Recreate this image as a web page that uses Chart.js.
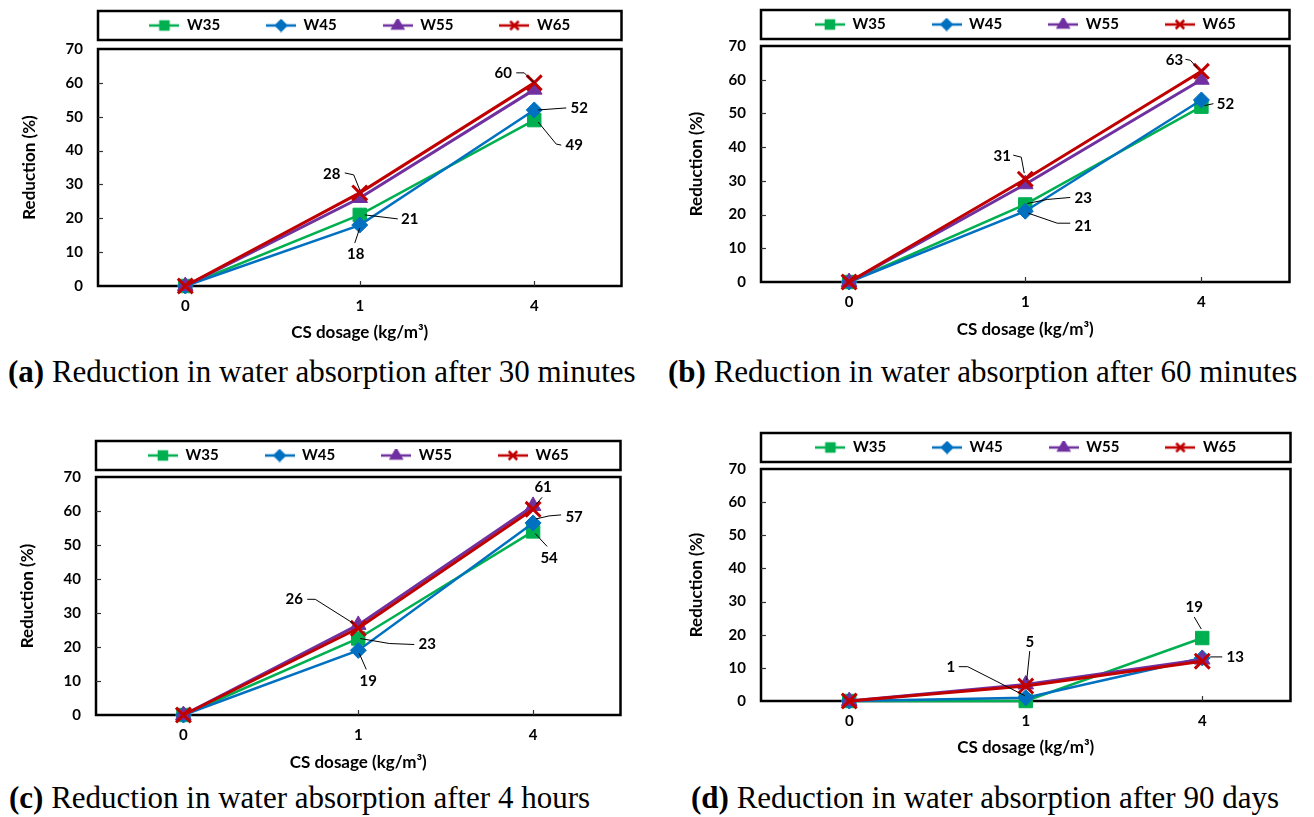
<!DOCTYPE html>
<html><head><meta charset="utf-8">
<script src="https://cdn.jsdelivr.net/npm/chart.js@4.4.0/dist/chart.umd.min.js"></script>
<style>
html,body{margin:0;padding:0;background:#fff;width:1314px;height:817px;overflow:hidden;position:relative}
canvas{position:absolute}
.cap{position:absolute;font-family:'Liberation Serif','Times New Roman',serif;font-size:31px;line-height:34px;white-space:nowrap;color:#000}
</style></head><body>
<script>
// ---------- data ----------
const categories = ['0', '1', '4'];
const seriesNames = ['W35', 'W45', 'W55', 'W65'];

const w35_30min = [0, 21, 49];
const w45_30min = [0, 18, 52];
const w55_30min = [0, 26, 58];
const w65_30min = [0, 27.5, 60];

const w35_60min = [0, 23, 52];
const w45_60min = [0, 21, 54];
const w55_60min = [0, 29, 60];
const w65_60min = [0, 30.5, 62.5];

const w35_4h = [0, 22.5, 54];
const w45_4h = [0, 19, 56.5];
const w55_4h = [0, 26.5, 61.5];
const w65_4h = [0, 25.5, 60.5];

const w35_90d = [0, 0, 19];
const w45_90d = [0, 1, 13];
const w55_90d = [0, 5, 12.5];
const w65_90d = [0, 4.5, 12];

// value labels: [series index, category index, text]
const labels_30min = [[3, 1, '28'], [0, 1, '21'], [1, 1, '18'], [3, 2, '60'], [1, 2, '52'], [0, 2, '49']];
const labels_60min = [[3, 1, '31'], [0, 1, '23'], [1, 1, '21'], [3, 2, '63'], [0, 2, '52']];
const labels_4h = [[3, 1, '26'], [0, 1, '23'], [1, 1, '19'], [3, 2, '61'], [1, 2, '57'], [0, 2, '54']];
const labels_90d = [[1, 1, '1'], [3, 1, '5'], [0, 2, '19'], [1, 2, '13']];

const captionTags = ['(a)', '(b)', '(c)', '(d)'];
const captionTexts = [
  'Reduction in water absorption after 30 minutes',
  'Reduction in water absorption after 60 minutes',
  'Reduction in water absorption after 4 hours',
  'Reduction in water absorption after 90 days'
];
const yTitle = 'Reduction (%)';
const xTitle = 'CS dosage (kg/m³)';

// ---------- layout & style ----------
const COLORS = ['#00B050', '#0070C0', '#7030A0', '#C00000'];
const MARK = [
  {style: 'rect', r: 9.5, bw: 1, lw: 2.5},
  {style: 'rectRot', r: 8, bw: 1, lw: 2.5},
  {style: 'triangle', r: 9, bw: 1, lw: 3},
  {style: 'crossRot', r: 10.5, bw: 3, lw: 3}
];
const LEG_MARK = [
  {style: 'rect', r: 5.7, bw: 1},
  {style: 'rectRot', r: 5, bw: 1},
  {style: 'triangle', r: 6, bw: 1},
  {style: 'crossRot', r: 6, bw: 2}
];
const LEG_PAD = 46, LEG_FONT = 15;

// label offsets relative to the marked point: t = text centre, p = leader line
const pos_30min = [
  {t: [-28, -19], p: [[-15, -20], [-6, -18], [0, -3]]},
  {t: [50, 4], p: [[38, 4], [5, 0]]},
  {t: [-4, 29], p: [[-5, 18], [0, 3]]},
  {t: [-31, -10], p: [[-18, -10], [-10, -10], [0, 0]]},
  {t: [45, -2], p: [[32, -2], [4, 0]]},
  {t: [40, 25], p: [[27, 25], [22, 24], [4, 2]]}
];
const pos_60min = [
  {t: [-23, -23], p: [[-12, -24], [-4, -22], [-1, -6]]},
  {t: [58, -6], p: [[45, -7], [22, -5], [2, -1]]},
  {t: [58, 15], p: [[45, 12], [32, 12], [3, 2]]},
  {t: [-27, -11], p: [[-16, -12], [-11, -11], [-4, -3]]},
  {t: [24, -3], p: [[12, -3], [3, -1]]}
];
const pos_4h = [
  {t: [-64, -29], p: [[-51, -29], [-43, -29], [-5, -5]]},
  {t: [69, 6], p: [[56, 6], [31, 5], [2, 0]]},
  {t: [10, 31], p: [[8, 19], [1, 3]]},
  {t: [10, -22], p: [[9, -12], [3, -5]]},
  {t: [41, -6], p: [[28, -8], [16, -7], [3, -4]]},
  {t: [16, 27], p: [[14, 15], [2, 2]]}
];
const pos_90d = [
  {t: [-75, -31], p: [[-67, -31], [-58, -31], [-1, -2]]},
  {t: [4, -44], p: [[4, -35], [1, -6]]},
  {t: [-8, -31], p: [[-8, -21], [-1, -9]]},
  {t: [33, -1], p: [[20, -1], [8, -1]]}
];

const PANELS = [
  {series: [w35_30min, w45_30min, w55_30min, w65_30min], labels: labels_30min, pos: pos_30min,
   left: 0, top: -28, width: 635, height: 371, yW: 98, xH: 57, spacer: 6, yTitlePad: 19, cap: [8, 355]},
  {series: [w35_60min, w45_60min, w55_60min, w65_60min], labels: labels_60min, pos: pos_60min,
   left: 660, top: -29, width: 643, height: 369, yW: 101, xH: 58, spacer: 4, yTitlePad: 26, cap: [668, 355]},
  {series: [w35_4h, w45_4h, w55_4h, w65_4h], labels: labels_4h, pos: pos_4h,
   left: 0, top: 402, width: 634, height: 371, yW: 96, xH: 58, spacer: 4, yTitlePad: 17, cap: [9, 781]},
  {series: [w35_90d, w45_90d, w55_90d, w65_90d], labels: labels_90d, pos: pos_90d,
   left: 660, top: 394, width: 644, height: 364, yW: 101, xH: 57, spacer: 4, yTitlePad: 26, cap: [691, 781]}
];

Chart.defaults.font.family = 'Lato, "Open Sans", sans-serif';
Chart.defaults.color = '#000';

function legendIcon(i) {
  const c = document.createElement('canvas');
  c.width = 30; c.height = 14;
  const ctx = c.getContext('2d');
  ctx.strokeStyle = COLORS[i]; ctx.lineWidth = 2.5;
  ctx.beginPath(); ctx.moveTo(0, 7); ctx.lineTo(30, 7); ctx.stroke();
  ctx.fillStyle = COLORS[i];
  const m = LEG_MARK[i];
  Chart.helpers.drawPoint(ctx, {pointStyle: m.style, radius: m.r, borderWidth: m.bw, rotation: 0}, 15, 7);
  return c;
}
const icons = seriesNames.map((_, i) => legendIcon(i));

function decor(panel) {
  return {
    id: 'decor',
    beforeDatasetsDraw(chart) {
      const {ctx, chartArea: a, scales: {x, y}} = chart;
      ctx.save();
      ctx.strokeStyle = '#000';
      ctx.lineWidth = 2.5;
      ctx.strokeRect(a.left, a.top, a.right - a.left, a.bottom - a.top);
      const lg = chart.legend;
      const cy = lg.top + LEG_PAD + LEG_FONT / 2;
      ctx.strokeRect(a.left, cy - 14.5, a.right - a.left, 29);
      ctx.lineWidth = 1.2;
      ctx.strokeStyle = '#333';
      y.ticks.forEach(t => {
        if (t.value > y.min && t.value < y.max) {
          const py = Math.round(y.getPixelForValue(t.value)) + 0.5;
          ctx.beginPath(); ctx.moveTo(a.left, py); ctx.lineTo(a.left + 5, py); ctx.stroke();
        }
      });
      x.ticks.forEach((t, i) => {
        const px = Math.round(x.getPixelForTick(i)) + 0.5;
        ctx.beginPath(); ctx.moveTo(px, a.bottom); ctx.lineTo(px, a.bottom - 5); ctx.stroke();
      });
      ctx.restore();
    },
    afterDatasetsDraw(chart) {
      const ctx = chart.ctx;
      ctx.save();
      ctx.font = 'bold 15px Lato, "Open Sans", sans-serif';
      ctx.textAlign = 'center';
      ctx.textBaseline = 'middle';
      ctx.fillStyle = '#000';
      ctx.strokeStyle = '#000';
      ctx.lineWidth = 1;
      panel.labels.forEach((lab, k) => {
        const el = chart.getDatasetMeta(lab[0]).data[lab[1]];
        const px = el.x, py = el.y;
        const ps = panel.pos[k];
        ctx.beginPath();
        ps.p.forEach((q, j) => {
          if (j === 0) ctx.moveTo(px + q[0], py + q[1]); else ctx.lineTo(px + q[0], py + q[1]);
        });
        ctx.stroke();
        ctx.fillText(lab[2], px + ps.t[0], py + ps.t[1]);
      });
      ctx.restore();
    }
  };
}

PANELS.forEach((panel, pi) => {
  const cv = document.createElement('canvas');
  cv.width = panel.width; cv.height = panel.height;
  cv.style.left = panel.left + 'px'; cv.style.top = panel.top + 'px';
  cv.style.width = panel.width + 'px'; cv.style.height = panel.height + 'px';
  document.body.appendChild(cv);

  const datasets = seriesNames.map((name, i) => ({
    label: name,
    data: panel.series[i],
    borderColor: COLORS[i],
    backgroundColor: COLORS[i],
    borderWidth: MARK[i].lw,
    pointStyle: MARK[i].style,
    pointRadius: MARK[i].r,
    pointBorderWidth: MARK[i].bw,
    pointBackgroundColor: COLORS[i],
    pointBorderColor: COLORS[i],
    tension: 0,
    clip: false,
    order: 3 - i
  }));

  new Chart(cv, {
    type: 'line',
    data: {labels: categories, datasets},
    options: {
      responsive: false,
      animation: false,
      devicePixelRatio: 1,
      layout: {padding: {left: 0, right: 2, top: 0, bottom: 0}},
      plugins: {
        tooltip: {enabled: false},
        legend: {
          display: true, position: 'top', fullSize: false, align: 'center',
          labels: {
            usePointStyle: true, pointStyleWidth: 30, padding: LEG_PAD,
            font: {size: LEG_FONT, weight: 'bold'}, color: '#000',
            generateLabels: () => seriesNames.map((n, i) => ({
              text: n, pointStyle: icons[i], fontColor: '#000', datasetIndex: i,
              hidden: false, lineWidth: 0, strokeStyle: 'rgba(0,0,0,0)', fillStyle: 'rgba(0,0,0,0)'
            }))
          }
        },
        title: {display: true, text: '', position: 'top', weight: 500, fullSize: false,
                padding: 0, font: {size: panel.spacer, lineHeight: 1}}
      },
      scales: {
        x: {
          type: 'category', offset: true,
          grid: {display: false, drawTicks: false},
          border: {display: false},
          ticks: {padding: 11, font: {size: 15, weight: 'bold'}, color: '#000'},
          title: {display: true, text: xTitle, font: {size: 17, weight: 'bold'}, color: '#000', padding: {top: 0, bottom: 0}},
          afterFit: s => { s.height = panel.xH; }
        },
        y: {
          min: 0, max: 70,
          grid: {display: false, drawTicks: false},
          border: {display: false},
          ticks: {stepSize: 10, padding: 15, font: {size: 15, weight: 'bold'}, color: '#000'},
          title: {display: true, text: yTitle, font: {size: 17, weight: 'bold'}, color: '#000', padding: {top: panel.yTitlePad, bottom: 0}},
          afterFit: s => { s.width = panel.yW; }
        }
      }
    },
    plugins: [decor(panel)]
  });

  const cap = document.createElement('div');
  cap.className = 'cap';
  cap.style.left = panel.cap[0] + 'px';
  cap.style.top = panel.cap[1] + 'px';
  const b = document.createElement('b');
  b.textContent = captionTags[pi];
  cap.appendChild(b);
  cap.appendChild(document.createTextNode(' ' + captionTexts[pi]));
  document.body.appendChild(cap);
});
</script>
</body></html>
